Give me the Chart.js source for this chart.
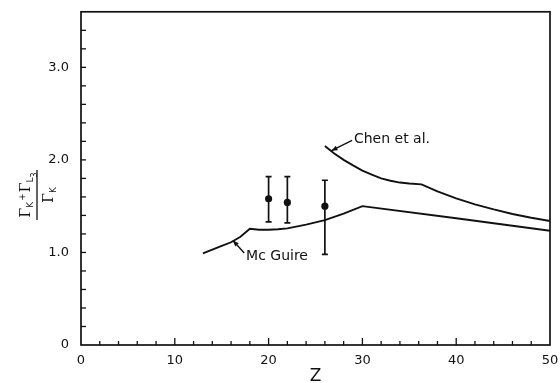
<!DOCTYPE html>
<html>
<head>
<meta charset="utf-8">
<script src="https://cdn.jsdelivr.net/npm/chart.js@4/dist/chart.umd.min.js"></script>
<style>
  html, body { margin: 0; padding: 0; background: #fff; }
  #wrap { width: 560px; height: 383px; position: relative; }
</style>
</head>
<body>
<div id="wrap"><canvas id="c"></canvas></div>
<script>
// McGuire calculation of (Γ_K + Γ_L3) / Γ_K versus atomic number Z
const mcguireZ = [13, 14, 15, 16, 17, 18, 19, 20, 21, 22, 24, 26, 28, 30, 40, 50];
const mcguireR = [0.99, 1.03, 1.07, 1.11, 1.17, 1.255, 1.245, 1.245, 1.25, 1.26, 1.30, 1.35, 1.42, 1.50, 1.37, 1.235];

// Chen et al. calculation
const chenZ = [26, 27, 28, 29, 30, 31, 32, 33, 34, 35, 36.3, 38, 40, 42, 44, 46, 48, 50];
const chenR = [2.15, 2.07, 2.00, 1.94, 1.885, 1.84, 1.80, 1.775, 1.755, 1.745, 1.735, 1.66, 1.585, 1.52, 1.465, 1.415, 1.375, 1.34];

// Measured ratios with error limits
const measZ = [20, 22, 26];
const measR = [1.58, 1.54, 1.50];
const measLo = [1.33, 1.32, 0.98];
const measHi = [1.82, 1.82, 1.78];

// Tick labels
const yTickLabels = { 0: '0', 1: '1.0', 2: '2.0', 3: '3.0' };
const xTickLabels = { 0: '0', 10: '10', 20: '20', 30: '30', 40: '40', 50: '50' };

// Curve labels: text, where the text starts, and the arrow from text to curve
const curveNotes = [
  { text: 'Chen et al.', at: [29.1, 2.22], tail: [28.9, 2.21], tip: [26.7, 2.10] },
  { text: 'Mc Guire', at: [17.6, 0.955], tail: [17.4, 0.995], tip: [16.2, 1.13] }
];

const INK = '#111';
const SANS = '"DejaVu Sans", "Liberation Sans", sans-serif';

const pts = (xs, ys) => xs.map((x, i) => ({ x, y: ys[i] }));

const framePlugin = {
  id: 'frame',
  afterDatasetsDraw(chart) {
    const { ctx, chartArea: a, scales: { x, y } } = chart;
    ctx.save();
    ctx.strokeStyle = INK;
    ctx.fillStyle = INK;

    // box
    ctx.lineWidth = 1.7;
    ctx.strokeRect(a.left, a.top, a.right - a.left, a.bottom - a.top);

    // inward ticks on bottom axis
    ctx.lineWidth = 1.3;
    x.ticks.forEach(t => {
      if (t.value <= x.min || t.value >= x.max) return;
      const px = x.getPixelForValue(t.value);
      const len = t.value % 10 === 0 ? 7 : 4;
      ctx.beginPath();
      ctx.moveTo(px, a.bottom);
      ctx.lineTo(px, a.bottom - len);
      ctx.stroke();
    });
    // inward ticks on left axis
    y.ticks.forEach(t => {
      if (t.value <= y.min + 1e-9 || t.value >= y.max - 1e-9) return;
      const py = y.getPixelForValue(t.value);
      ctx.beginPath();
      ctx.moveTo(a.left, py);
      ctx.lineTo(a.left + 5, py);
      ctx.stroke();
    });

    // error bars
    ctx.lineWidth = 1.7;
    measZ.forEach((z, i) => {
      const px = x.getPixelForValue(z);
      const pLo = y.getPixelForValue(measLo[i]);
      const pHi = y.getPixelForValue(measHi[i]);
      ctx.beginPath();
      ctx.moveTo(px, pLo); ctx.lineTo(px, pHi);
      ctx.moveTo(px - 3, pLo); ctx.lineTo(px + 3, pLo);
      ctx.moveTo(px - 3, pHi); ctx.lineTo(px + 3, pHi);
      ctx.stroke();
    });

    // curve labels with arrows
    ctx.font = '14px ' + SANS;
    ctx.textBaseline = 'middle';
    ctx.textAlign = 'left';
    ctx.lineWidth = 1.4;
    curveNotes.forEach(n => {
      const tx = x.getPixelForValue(n.tail[0]), ty = y.getPixelForValue(n.tail[1]);
      const hx = x.getPixelForValue(n.tip[0]), hy = y.getPixelForValue(n.tip[1]);
      ctx.beginPath();
      ctx.moveTo(tx, ty); ctx.lineTo(hx, hy);
      ctx.stroke();
      const ang = Math.atan2(hy - ty, hx - tx);
      const L = 6, W = 2.4;
      ctx.beginPath();
      ctx.moveTo(hx, hy);
      ctx.lineTo(hx - L * Math.cos(ang) + W * Math.sin(ang), hy - L * Math.sin(ang) - W * Math.cos(ang));
      ctx.lineTo(hx - L * Math.cos(ang) - W * Math.sin(ang), hy - L * Math.sin(ang) + W * Math.cos(ang));
      ctx.closePath();
      ctx.fill();
      ctx.fillText(n.text, x.getPixelForValue(n.at[0]), y.getPixelForValue(n.at[1]));
    });
    ctx.restore();
  },
  afterDraw(chart) {
    // vertical axis title: (Γ_K + Γ_L3) / Γ_K written as a fraction
    const { ctx, chartArea: a, scales: { y } } = chart;
    const cx = a.left - 44;
    const cy = y.getPixelForValue(1.6) - 2;
    ctx.save();
    ctx.translate(cx, cy);
    ctx.rotate(-Math.PI / 2);
    ctx.fillStyle = INK;
    ctx.strokeStyle = INK;
    ctx.textBaseline = 'alphabetic';
    ctx.textAlign = 'left';
    const big = '14px "DejaVu Serif", serif';
    const small = '9px ' + SANS;
    const tiny = '8px ' + SANS;
    const runs = (parts, base) => {
      let w = 0;
      parts.forEach(p => { ctx.font = p.f; w += ctx.measureText(p.t).width + (p.gap || 0); });
      let xx = -w / 2;
      parts.forEach(p => {
        ctx.font = p.f;
        ctx.fillText(p.t, xx, base + p.dy);
        xx += ctx.measureText(p.t).width + (p.gap || 0);
      });
    };
    runs([
      { t: 'Γ', f: big, dy: 0 },
      { t: 'K', f: small, dy: 3, gap: 1 },
      { t: '+', f: small, dy: -5, gap: 1 },
      { t: 'Γ', f: big, dy: 0 },
      { t: 'L', f: small, dy: 3 },
      { t: '3', f: tiny, dy: 7 }
    ], -7);
    runs([
      { t: 'Γ', f: big, dy: 0 },
      { t: 'K', f: small, dy: 3 }
    ], 16);
    ctx.lineWidth = 1.3;
    ctx.beginPath();
    ctx.moveTo(-25, 0); ctx.lineTo(25, 0);
    ctx.stroke();
    ctx.restore();
  }
};

new Chart(document.getElementById('c'), {
  type: 'scatter',
  data: {
    datasets: [
      {
        label: 'Mc Guire',
        data: pts(mcguireZ, mcguireR),
        showLine: true,
        borderColor: INK,
        borderWidth: 1.9,
        pointRadius: 0,
        tension: 0
      },
      {
        label: 'Chen et al.',
        data: pts(chenZ, chenR),
        showLine: true,
        borderColor: INK,
        borderWidth: 1.9,
        pointRadius: 0,
        tension: 0
      },
      {
        label: 'Measured',
        data: pts(measZ, measR),
        showLine: false,
        pointRadius: 3.6,
        pointBackgroundColor: INK,
        pointBorderColor: INK,
        pointBorderWidth: 0
      }
    ]
  },
  options: {
    responsive: true,
    maintainAspectRatio: false,
    animation: false,
    events: [],
    layout: { padding: { top: 7, right: 10, left: 0, bottom: 0 } },
    plugins: { legend: { display: false }, tooltip: { enabled: false } },
    scales: {
      x: {
        type: 'linear',
        min: 0,
        max: 50,
        grid: { display: false },
        border: { display: false },
        ticks: {
          stepSize: 2,
          autoSkip: false,
          maxRotation: 0,
          color: INK,
          padding: 0,
          font: { family: SANS, size: 13 },
          callback: v => xTickLabels[v] ?? ''
        },
        title: {
          display: true,
          text: 'Z',
          color: INK,
          font: { family: SANS, size: 17 },
          padding: { top: 0, bottom: -4 }
        },
        afterFit: s => { s.height = 38; }
      },
      y: {
        type: 'linear',
        min: 0,
        max: 3.6,
        grid: { display: false },
        border: { display: false },
        ticks: {
          stepSize: 0.2,
          autoSkip: false,
          color: INK,
          padding: 4,
          font: { family: SANS, size: 13 },
          callback: v => {
            const r = Math.round(v);
            return Math.abs(v - r) < 1e-6 && yTickLabels[r] !== undefined ? yTickLabels[r] : '';
          }
        },
        afterFit: s => { s.width = 81; }
      }
    }
  },
  plugins: [framePlugin]
});
</script>
</body>
</html>
